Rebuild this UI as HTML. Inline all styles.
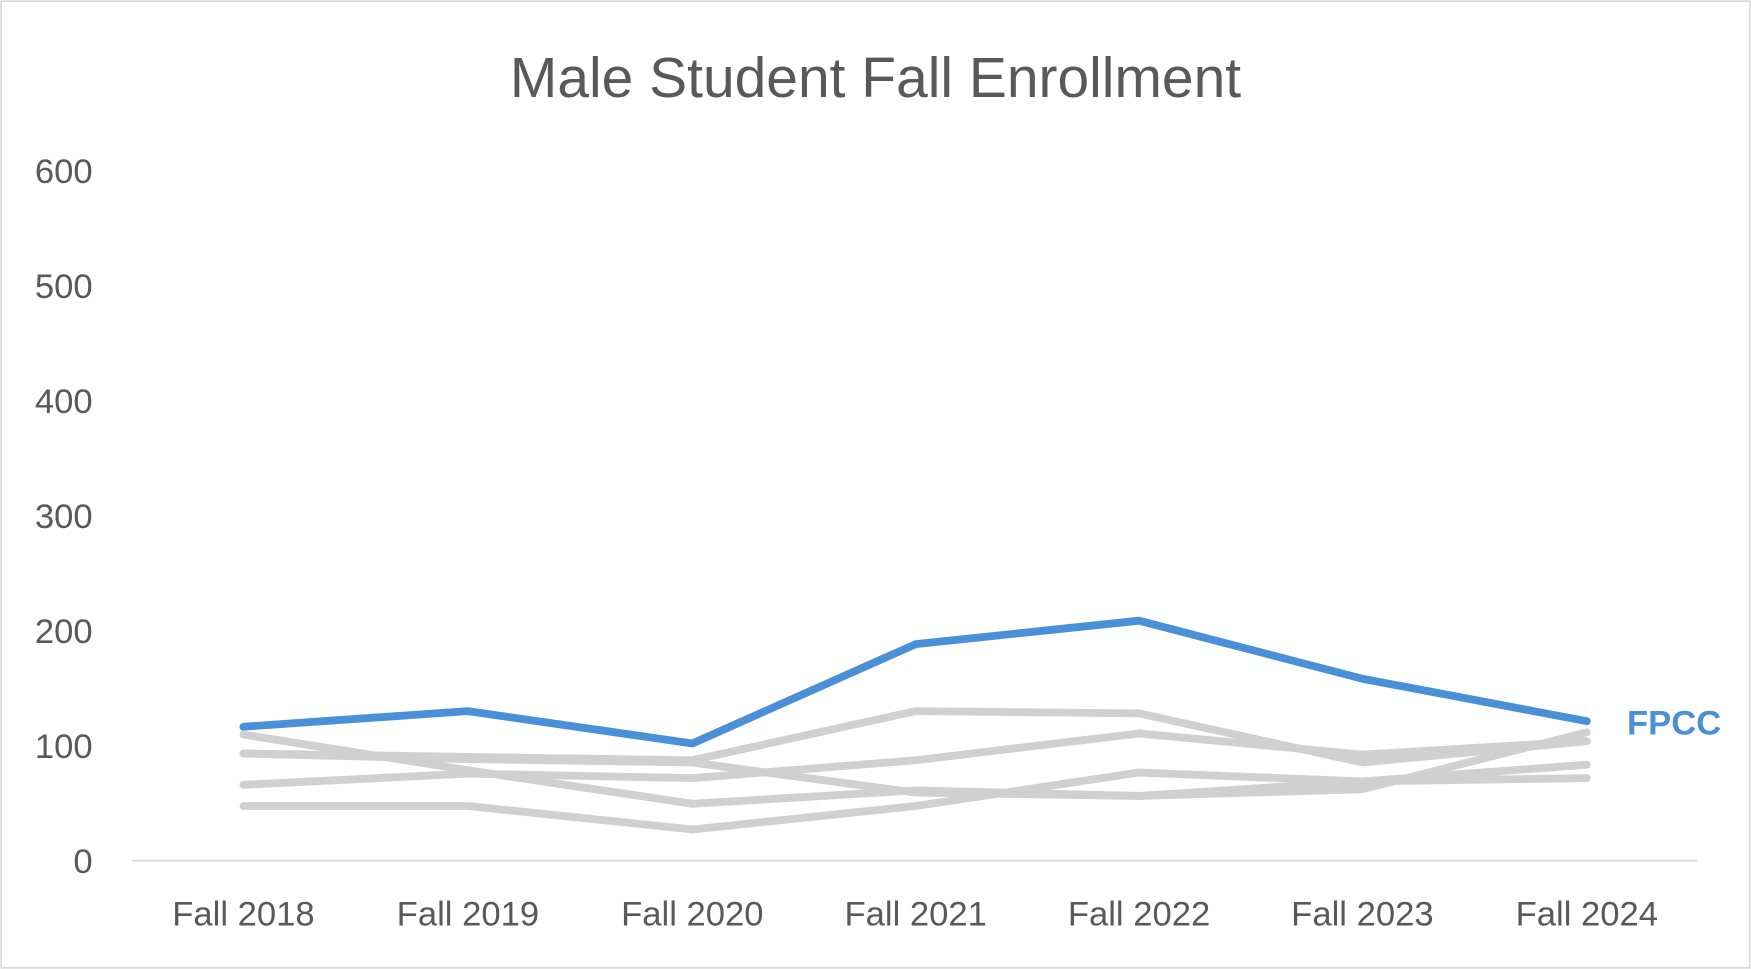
<!DOCTYPE html>
<html><head><style>
html,body{margin:0;padding:0;background:#fff;}
svg{display:block;}
text{font-family:"Liberation Sans",sans-serif;}
</style></head><body>
<svg width="1751" height="969" viewBox="0 0 1568 868" preserveAspectRatio="none">
<rect x="0" y="0" width="1568" height="868" fill="#fff"/>
<rect x="1" y="1" width="1566" height="866" fill="none" stroke="#d9d9d9" stroke-width="1.5"/>
<text x="784" y="87" text-anchor="middle" font-size="51" fill="#595959">Male Student Fall Enrollment</text>
<g font-size="31" fill="#595959" text-anchor="end">
<text x="83" y="782">0</text>
<text x="83" y="679">100</text>
<text x="83" y="576">200</text>
<text x="83" y="473">300</text>
<text x="83" y="370">400</text>
<text x="83" y="267">500</text>
<text x="83" y="164">600</text>
</g>
<line x1="118" y1="771" x2="1520" y2="771" stroke="#d9d9d9" stroke-width="1.5"/>
<g font-size="31" fill="#595959" text-anchor="middle">
<text x="218" y="829">Fall 2018</text>
<text x="419" y="829">Fall 2019</text>
<text x="620" y="829">Fall 2020</text>
<text x="820" y="829">Fall 2021</text>
<text x="1020" y="829">Fall 2022</text>
<text x="1220" y="829">Fall 2023</text>
<text x="1421" y="829">Fall 2024</text>
</g>
<g fill="none" stroke="#d0d0d0" stroke-width="7" stroke-linejoin="round" stroke-linecap="round">
<polyline points="218,675 419,678 620,681 820,637 1020,639 1220,683 1421,664"/>
<polyline points="218,658 419,690 620,720 820,708 1020,713 1220,707 1421,656"/>
<polyline points="218,703 419,693 620,697 820,681 1020,657 1220,676 1421,664"/>
<polyline points="218,722 419,722 620,743 820,722 1020,692 1220,700 1421,685"/>
<polyline points="218,675 419,680 620,683 820,710 1020,713 1220,700 1421,697"/>
</g>
<polyline fill="none" stroke="#4a90d9" stroke-width="7" stroke-linejoin="round" stroke-linecap="round" points="218,651 419,637 620,666 820,577 1020,556 1220,608 1421,646"/>
<text x="1457" y="658" font-size="31" font-weight="bold" fill="#4a90d9">FPCC</text>
</svg>
</body></html>
